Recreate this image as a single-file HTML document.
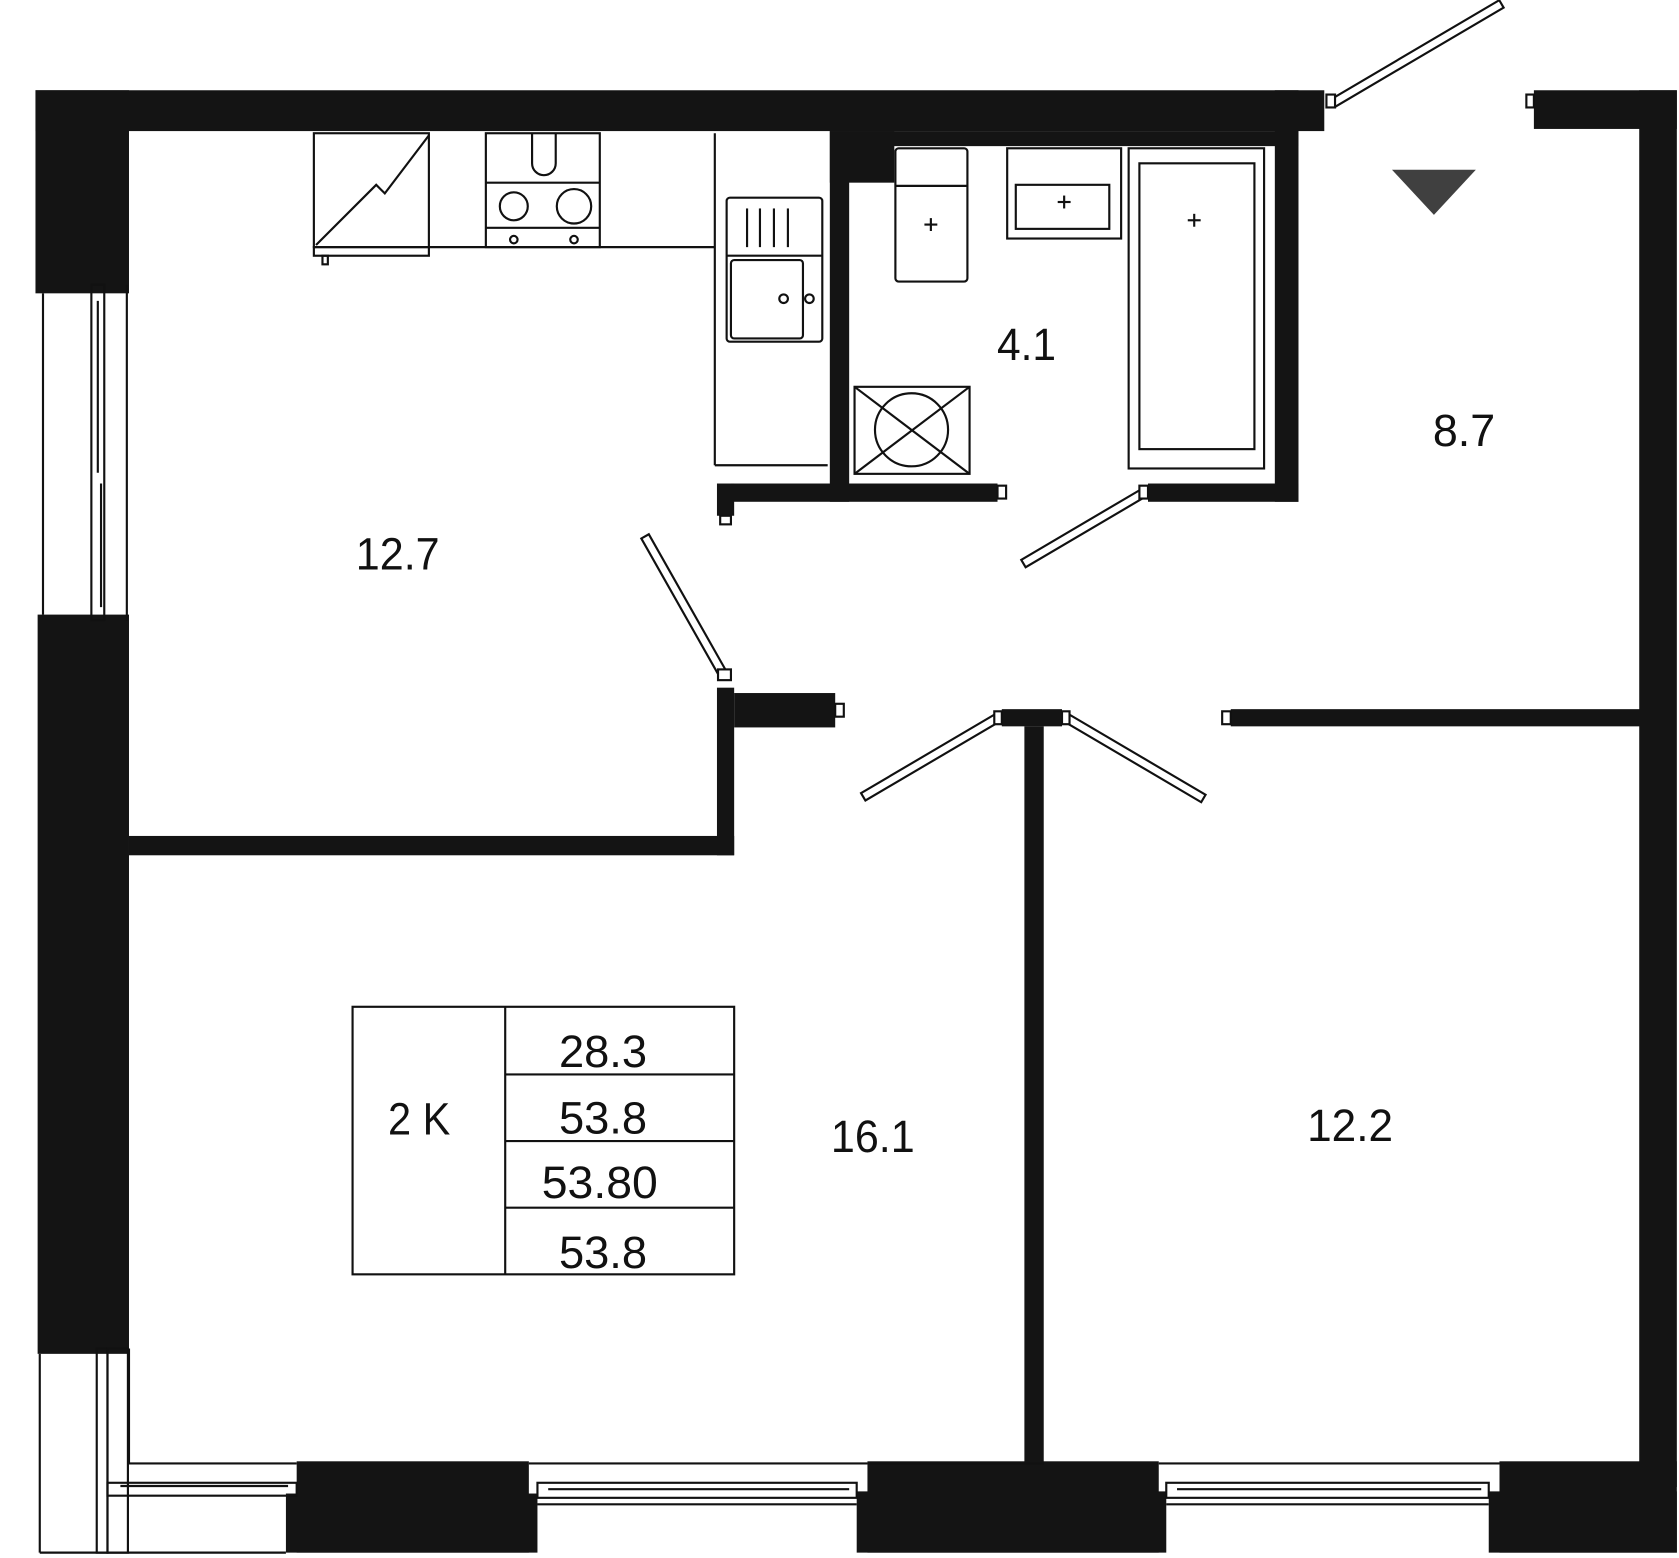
<!DOCTYPE html>
<html><head><meta charset="utf-8"><style>
html,body{margin:0;padding:0;background:#fff;}
svg{display:block;}
text{font-family:"Liberation Sans",sans-serif;fill:#111;}
</style></head><body>
<svg width="1679" height="1558" viewBox="0 0 1562 1450" preserveAspectRatio="none" xmlns="http://www.w3.org/2000/svg">
<g fill="#141414">
<!-- top wall -->
<rect x="33" y="84" width="1199" height="38"/>
<rect x="33" y="84" width="87" height="189"/>
<!-- kitchen/bath wall -->
<rect x="772" y="122" width="18" height="345"/>
<rect x="772" y="122" width="60" height="48"/>
<rect x="790" y="122" width="418" height="14"/>
<rect x="1186" y="84" width="22" height="383"/>
<!-- bath bottom wall -->
<rect x="680" y="450" width="248" height="17"/>
<rect x="667" y="450" width="16" height="30"/>
<rect x="1068" y="450" width="140" height="17"/>
<!-- right -->
<rect x="1427" y="84" width="133" height="36"/>
<rect x="1525" y="84" width="35" height="1300"/>
<!-- left -->
<rect x="35" y="572" width="85" height="688"/>
<!-- kitchen/living -->
<rect x="120" y="778" width="563" height="18"/>
<rect x="667" y="640" width="16" height="156"/>
<rect x="683" y="645" width="94" height="32"/>
<!-- center T -->
<rect x="932" y="660" width="56" height="16"/>
<rect x="953" y="676" width="18" height="686"/>
<rect x="1145" y="660" width="382" height="16"/>
<!-- bottom blocks -->
<rect x="276" y="1360" width="216" height="85"/>
<rect x="266" y="1390" width="234" height="55"/>
<rect x="807" y="1360" width="271" height="85"/>
<rect x="797" y="1388" width="288" height="57"/>
<rect x="1395" y="1360" width="165" height="85"/>
<rect x="1385" y="1388" width="175" height="57"/>
</g>
<g fill="none" stroke="#111" stroke-width="2">
<!-- left window -->
<line x1="40" y1="273" x2="40" y2="572"/>
<line x1="118" y1="265" x2="118" y2="578"/>
<rect x="85" y="265" width="12" height="312"/>
<line x1="91" y1="280" x2="91" y2="440"/>
<line x1="94" y1="450" x2="94" y2="565"/>
<!-- bottom-left window -->
<line x1="37" y1="1260" x2="37" y2="1445"/>
<rect x="90" y="1255" width="10" height="190"/>
<rect x="100" y="1255" width="19" height="190"/>
<line x1="120" y1="1362" x2="276" y2="1362"/>
<line x1="37" y1="1445" x2="266" y2="1445"/>
<rect x="100" y="1380" width="176" height="12"/>
<line x1="112" y1="1383" x2="268" y2="1383"/>
<line x1="120" y1="1362" x2="120" y2="1255"/>
<!-- bottom windows -->
<line x1="492" y1="1362" x2="807" y2="1362"/>
<rect x="500" y="1380" width="297" height="14"/>
<line x1="510" y1="1386" x2="790" y2="1386"/>
<line x1="500" y1="1400" x2="797" y2="1400"/>
<line x1="971" y1="1362" x2="807" y2="1362"/>
<line x1="1078" y1="1362" x2="1395" y2="1362"/>
<rect x="1085" y="1380" width="300" height="14"/>
<line x1="1095" y1="1386" x2="1378" y2="1386"/>
<line x1="1085" y1="1400" x2="1385" y2="1400"/>
<!-- kitchen -->
<rect x="292" y="124" width="107" height="106"/>
<polyline points="294,228 350,172 358,180 399,126"/>
<rect x="292" y="230" width="107" height="8"/>
<rect x="300" y="238" width="5" height="8"/>
<rect x="452" y="124" width="106" height="106"/>
<line x1="452" y1="170" x2="558" y2="170"/>
<line x1="452" y1="212" x2="558" y2="212"/>
<path d="M495 124 V152 A11 11 0 0 0 517 152 V124"/>
<circle cx="478" cy="192" r="13"/>
<circle cx="534" cy="192" r="16"/>
<circle cx="478" cy="223" r="3.5"/>
<circle cx="534" cy="223" r="3.5"/>
<line x1="399" y1="230" x2="665" y2="230"/>
<line x1="665" y1="124" x2="665" y2="433"/>
<line x1="665" y1="433" x2="770" y2="433"/>
<rect x="676" y="184" width="89" height="134" rx="3"/>
<line x1="676" y1="238" x2="765" y2="238"/>
<rect x="680" y="242" width="67" height="73" rx="3"/>
<line x1="695" y1="194" x2="695" y2="230"/><line x1="707" y1="194" x2="707" y2="230"/>
<line x1="720" y1="194" x2="720" y2="230"/><line x1="733" y1="194" x2="733" y2="230"/>
<circle cx="729" cy="278" r="4"/><circle cx="753" cy="278" r="4"/>
<!-- bath -->
<rect x="833" y="138" width="67" height="124" rx="3"/>
<line x1="833" y1="173" x2="900" y2="173"/>
<line x1="860" y1="209" x2="872" y2="209"/><line x1="866" y1="203" x2="866" y2="215"/>
<rect x="937" y="138" width="106" height="84"/>
<rect x="945" y="172" width="87" height="41"/>
<line x1="984" y1="188" x2="996" y2="188"/><line x1="990" y1="182" x2="990" y2="194"/>
<rect x="1050" y="138" width="126" height="298"/>
<rect x="1060" y="152" width="107" height="266"/>
<line x1="1105" y1="205" x2="1117" y2="205"/><line x1="1111" y1="199" x2="1111" y2="211"/>
<rect x="795" y="360" width="107" height="81"/>
<line x1="795" y1="360" x2="902" y2="441"/><line x1="902" y1="360" x2="795" y2="441"/>
<circle cx="848" cy="400" r="34"/>
<!-- table -->
<rect x="328" y="937" width="355" height="249"/>
<line x1="470" y1="937" x2="470" y2="1186"/>
<line x1="470" y1="1000" x2="683" y2="1000"/>
<line x1="470" y1="1062" x2="683" y2="1062"/>
<line x1="470" y1="1124" x2="683" y2="1124"/>
</g>
<!-- doors -->
<g fill="#fff" stroke="#111" stroke-width="2">
<rect x="0" y="-4" width="182" height="8" transform="translate(1240,96) rotate(-30.5)"/>
<rect x="0" y="-4" width="131" height="8" transform="translate(1065,458) rotate(149.5)"/>
<rect x="0" y="-4" width="148" height="8" transform="translate(673,628) rotate(-119.5)"/>
<rect x="0" y="-4" width="145" height="8" transform="translate(928,668) rotate(149.5)"/>
<rect x="0" y="-4" width="148" height="8" transform="translate(992,668) rotate(30.5)"/>
<rect x="1234" y="88" width="8" height="12"/>
<rect x="1420" y="88" width="7" height="12"/>
<rect x="928" y="452" width="8" height="12"/>
<rect x="1060" y="452" width="8" height="12"/>
<rect x="777" y="655" width="8" height="12"/>
<rect x="925" y="662" width="7" height="12"/>
<rect x="988" y="662" width="7" height="12"/>
<rect x="1137" y="662" width="8" height="12"/>
<rect x="668" y="623" width="12" height="10"/>
<rect x="670" y="480" width="10" height="8"/>
</g>
<polygon points="1295,158 1373,158 1334,200" fill="#404040"/>
<g font-size="42" text-anchor="middle">
<text x="370" y="530" textLength="78" lengthAdjust="spacingAndGlyphs">12.7</text>
<text x="955" y="335" textLength="55" lengthAdjust="spacingAndGlyphs">4.1</text>
<text x="1362" y="415" textLength="58" lengthAdjust="spacingAndGlyphs">8.7</text>
<text x="812" y="1072" textLength="78" lengthAdjust="spacingAndGlyphs">16.1</text>
<text x="1256" y="1062" textLength="80" lengthAdjust="spacingAndGlyphs">12.2</text>
<text x="390" y="1056" textLength="58" lengthAdjust="spacingAndGlyphs">2 K</text>
<text x="561" y="993" textLength="82" lengthAdjust="spacingAndGlyphs">28.3</text>
<text x="561" y="1055" textLength="82" lengthAdjust="spacingAndGlyphs">53.8</text>
<text x="558" y="1115" textLength="108" lengthAdjust="spacingAndGlyphs">53.80</text>
<text x="561" y="1180" textLength="82" lengthAdjust="spacingAndGlyphs">53.8</text>
</g>
</svg>
</body></html>
